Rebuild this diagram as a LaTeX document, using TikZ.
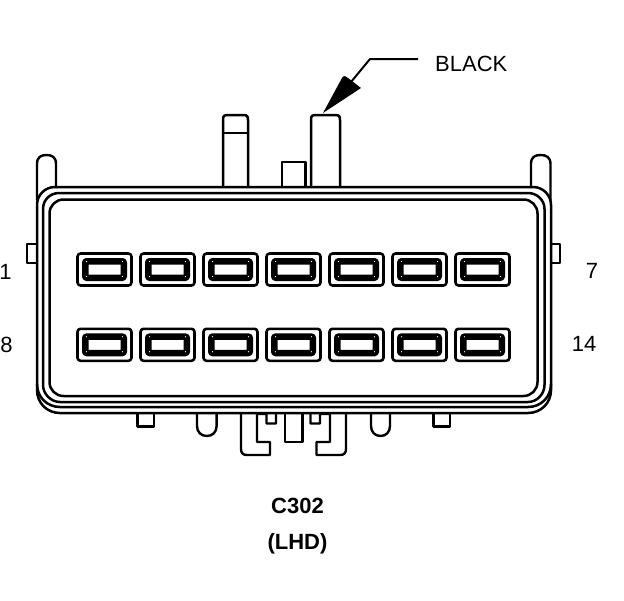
\documentclass[tikz,border=0pt]{standalone}
\usepackage{fontspec}
\setmainfont{Liberation Sans}
\begin{document}
\begin{tikzpicture}[x=1pt,y=-1pt,line join=round,
  body/.style={line width=2.5pt,draw=black},
  thin part/.style={line width=2.4pt,draw=black},
  lbl/.style={inner sep=0pt,font=\fontsize{22}{22}\selectfont},
  cap lbl/.style={inner sep=0pt,font=\fontsize{22}{22}\selectfont\bfseries},
  cavity/.style={draw=black,line width=2.6pt,rounded corners=3pt,fill=white,minimum width=54pt,minimum height=32pt,inner sep=0pt},
  cavityin/.style={draw=black,line width=6.5pt,rounded corners=1pt,fill=white,minimum width=38.5pt,minimum height=16.5pt,inner sep=0pt}]
\useasboundingbox (0,0) rectangle (624,600);
\fill[white] (0,0) rectangle (624,600);
% clips
\draw[thin part] (37,200) -- (37,164) .. controls (37,157) and (41,155) .. (46.5,155) .. controls (52,155) and (56,157) .. (56,164) -- (56,188);
\draw[thin part] (531,188) -- (531,164) .. controls (531,157) and (535,155) .. (540.5,155) .. controls (546,155) and (550.5,157) .. (550.5,164) -- (550.5,200);
% top posts
\draw[body] (223,187) -- (223,120) .. controls (223,116) and (224,115) .. (228,115) -- (243,115) .. controls (247,115) and (248,116) .. (248,120) -- (248,187);
\draw[body] (223,133) -- (248,133);
\draw[thin part] (282,187) -- (282,162) -- (305.5,162) -- (305.5,187);
\draw[body] (311,187) -- (311,120) .. controls (311,116) and (312,115) .. (316,115) -- (335,115) .. controls (339,115) and (340,116) .. (340,120) -- (340,187);
% side tabs
\draw[thin part] (37,244) -- (27,244) -- (27,263) -- (37,263);
\draw[thin part] (551,244) -- (560,244) -- (560,263) -- (551,263);
% bottom tabs
\draw[thin part] (137.5,413) -- (137.5,426.5) -- (154,426.5) -- (154,413);
\draw[thin part] (197,413) -- (197,426) .. controls (197,432) and (201,436) .. (206.8,436) .. controls (212.6,436) and (216.6,432) .. (216.6,426) -- (216.6,413);
\draw[thin part] (371,413) -- (371,426) .. controls (371,432) and (375,436) .. (380.5,436) .. controls (386,436) and (390,432) .. (390,426) -- (390,413);
\draw[thin part] (433.5,413) -- (433.5,426.5) -- (450,426.5) -- (450,413);
\draw[thin part] (241,413) -- (241,449) .. controls (241,453) and (243,455) .. (247,455) -- (270,455) -- (270,442) -- (257,442) -- (257,414) -- (266.5,414) -- (266.5,423.5) -- (276,423.5) -- (276,413);
\draw[thin part] (285,413) -- (285,442) -- (302.5,442) -- (302.5,413);
\draw[thin part] (346,413) -- (346,449) .. controls (346,453) and (344,455) .. (340,455) -- (316.5,455) -- (316.5,442) -- (330,442) -- (330,414) -- (320,414) -- (320,423.5) -- (310.5,423.5) -- (310.5,413);
% body
\draw[body] (55,187) -- (533,187) .. controls (543,187) and (551,195) .. (551,205) -- (551,390) .. controls (551,403) and (541,413) .. (528,413) -- (60,413) .. controls (47,413) and (37,403) .. (37,390) -- (37,205) .. controls (37,195) and (45,187) .. (55,187) -- cycle;
\draw[body] (37,384) .. controls (37,397) and (47,407) .. (60,407) -- (528,407) .. controls (541,407) and (551,397) .. (551,384);
\draw[body] (59,193) -- (528,193) .. controls (537,193) and (544.5,200) .. (544.5,209) -- (544.5,385) .. controls (544.5,394) and (537,402) .. (528,402) -- (60,402) .. controls (51,402) and (43,394) .. (43,385) -- (43,209) .. controls (43,200) and (50,193) .. (59,193) -- cycle;
\draw[body,rounded corners=14pt] (49.5,199.5) rectangle (537.5,396);
% cavities
\foreach \n/\x in {a/104.5,b/167.5,c/230.5,d/293.5,e/356.5,f/419.5,g/482.5}{
  \foreach \r/\y in {1/269.5,2/344.8}{
    \node[cavity] (\n\r) at (\x,\y) {};
    \node[cavityin] (\n\r i) at (\x,\y) {};
    \foreach \dx/\dy in {-18/-8,18/-8,-18/7,18/7}
      \fill[white] (\x+\dx,\y+\dy) circle[radius=0.6pt];
  }
}
% labels
\node[lbl,anchor=base west] (black) at (435,71) {BLACK};
\node[lbl] (n1) at (5.5,272) {1};
\node[lbl] (n7) at (592,271) {7};
\node[lbl] (n8) at (6.5,345) {8};
\node[lbl] (n14) at (584,344) {14};
\node[cap lbl] (c302) at (297.5,506) {C302};
\node[cap lbl] (lhd) at (297.5,544) {(LHD)};
% leader
\coordinate (l0) at (418,59);
\coordinate (l1) at (370,59);
\coordinate (l2) at (351,82);
\coordinate (tip) at (323,113);
\draw[line width=2pt] (l0) -- (l1) -- (l2);
\fill (tip) -- (342,78) .. controls (344,75) and (346,76) .. (348,78) -- (361,88) -- cycle;
\end{tikzpicture}
\end{document}
